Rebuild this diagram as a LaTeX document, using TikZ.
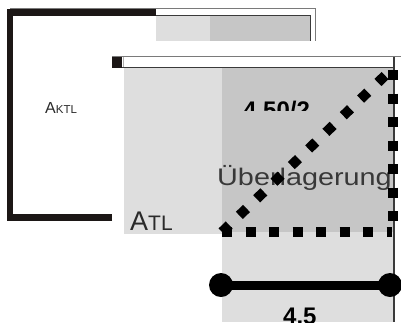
\documentclass[tikz,border=0pt]{standalone}
\usepackage{fontspec}
\setmainfont{Liberation Sans}
\usepackage{graphicx}
\definecolor{lg}{HTML}{DEDEDE}
\definecolor{dg}{HTML}{C6C6C6}
\definecolor{blk}{HTML}{1C1716}
\definecolor{darkline}{HTML}{3A3A3A}
\definecolor{midline}{HTML}{7A7A7A}
\definecolor{txt}{HTML}{2A2A2A}
\definecolor{uebtxt}{HTML}{383838}
\tikzset{
  lbl/.style={inner sep=0pt, anchor=base west, text=txt},
  dotline/.style={line width=10pt, line cap=butt, draw=black},
  frameline/.style={draw=darkline, line width=1pt},
  outerline/.style={draw=midline, line width=0.8pt},
}
\begin{document}
\begin{tikzpicture}[x=1pt,y=-1pt]
\useasboundingbox (0,0) rectangle (401,322);
\clip (0,0) rectangle (401,322);
% upper panel
\fill[lg] (156,15) rectangle (210,41);
\fill[dg] (210,15) rectangle (310,41);
\draw[outerline] (10,8.5) -- (315,8.5) -- (315,41);
\draw[frameline] (155,15) -- (310,15) -- (310,41);
\draw[blk, line width=6.5pt] (112,217.7) -- (10,217.7) -- (10,12.4) -- (156,12.4);
% lower panel
\fill[lg] (124,68) rectangle (222,234);
\fill[dg] (222,68) rectangle (393.5,232);
\fill[lg] (222,232) rectangle (393.5,322);
\draw[outerline] (112,56) -- (401,56);
\draw[frameline] (112,67) -- (394,67);
\fill[blk] (112,56.5) rectangle (122,67.5);
\draw[draw=midline!60, line width=1pt] (123.5,57) -- (123.5,67);
\draw[draw=darkline, line width=1.5pt] (394,56.5) -- (394,322);
% texts
\node[lbl] (aktl) at (45,113) {\fontsize{16}{16}\selectfont A\fontsize{11.5}{11.5}\selectfont KTL};
\node[lbl] (atl) at (130,230) {\fontsize{27}{27}\selectfont A\fontsize{21}{21}\selectfont TL};
\node[lbl, text=uebtxt] (ueb) at (217,185) {\scalebox{1.2}[1]{\fontsize{24}{24}\selectfont Überlagerung}};
\begin{scope}
\clip (222,68) rectangle (393,110.5);
\node[lbl, text=black] (v1) at (243,118) {\fontsize{24}{24}\selectfont\bfseries 4.50/2};
\end{scope}
\node[lbl, text=black] (v2) at (283,324) {\fontsize{24}{24}\selectfont\bfseries 4.5};
% dotted overlap outline
\coordinate (c1) at (222,232);
\coordinate (c2) at (392.5,68.5);
\coordinate (c3) at (393,70);
\coordinate (c4) at (393,232);
\coordinate (c5) at (392,232);
\draw[dotline, dash pattern=on 10pt off 14pt] (c1) -- (c2);
\draw[dotline, dash pattern=on 10pt off 13.5pt] (c3) -- (c4);
\draw[dotline, dash pattern=on 10pt off 13.5pt] (c1) -- (c5);
% dimension line
\coordinate (d1) at (221,285);
\coordinate (d2) at (390,285);
\draw[black, line width=9pt] (d1) -- (d2);
\fill[black] (d1) circle (12);
\fill[black] (d2) circle (12);
\end{tikzpicture}
\end{document}
